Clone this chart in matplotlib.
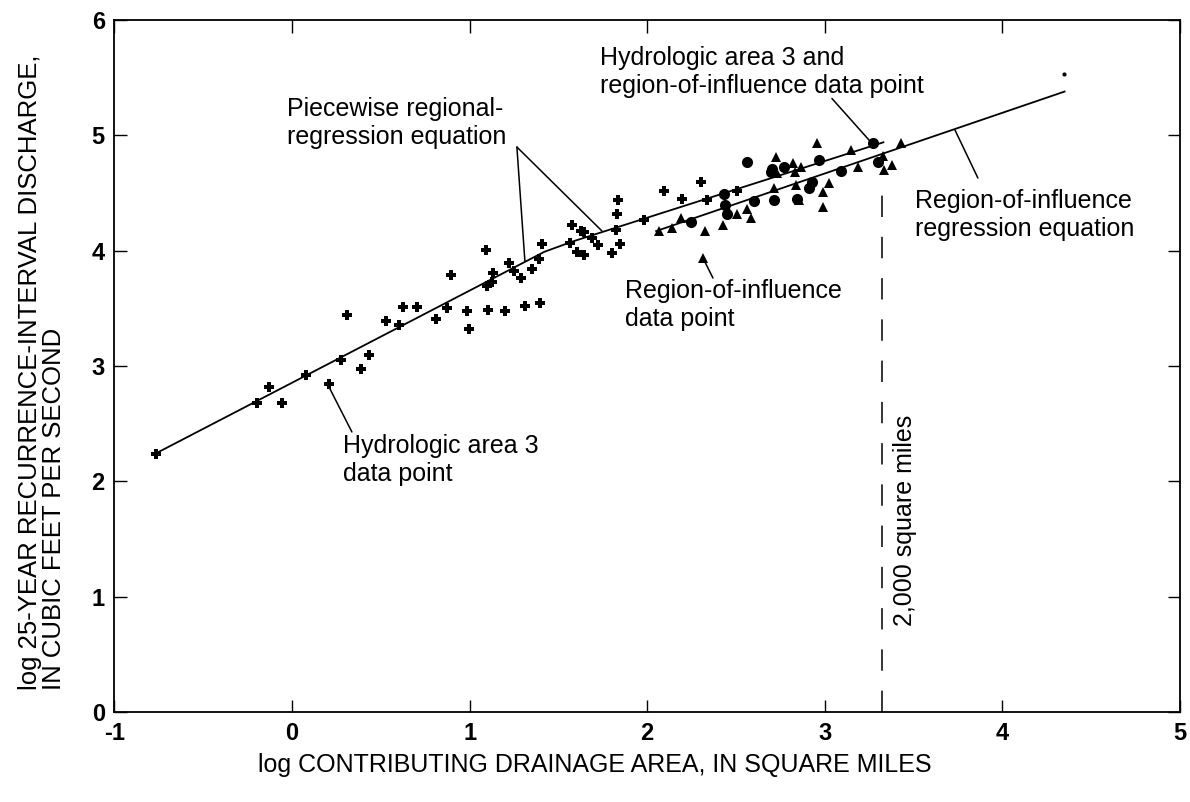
import matplotlib
matplotlib.use("Agg")
import matplotlib.pyplot as plt

plt.rcParams["font.family"] = ["Liberation Sans", "DejaVu Sans"]
plt.rcParams["axes.unicode_minus"] = False

# hydrologic area 3 data points (log area, log Q25)
hydro_x = [-0.769, -0.196, -0.131, -0.055, 0.076, 0.207, 0.273, 0.311, 0.386, 0.433,
           0.527, 0.602, 0.626, 0.705, 0.808, 0.874, 0.893, 0.987, 0.996, 1.090,
           1.103, 1.096, 1.133, 1.128, 1.197, 1.221, 1.250, 1.291, 1.312, 1.353,
           1.391, 1.396, 1.410, 1.565, 1.578, 1.603, 1.625, 1.644, 1.644, 1.691,
           1.723, 1.804, 1.823, 1.832, 1.836, 1.847, 1.982, 2.095, 2.195, 2.302,
           2.339, 2.504]
hydro_y = [2.24, 2.68, 2.82, 2.68, 2.92, 2.84, 3.05, 3.44, 2.97, 3.10,
           3.39, 3.36, 3.51, 3.51, 3.41, 3.50, 3.79, 3.48, 3.32, 4.01,
           3.49, 3.69, 3.81, 3.73, 3.48, 3.89, 3.82, 3.76, 3.52, 3.84,
           3.93, 3.55, 4.06, 4.07, 4.22, 3.99, 4.17, 4.16, 3.96, 4.11,
           4.05, 3.98, 4.18, 4.32, 4.44, 4.06, 4.27, 4.52, 4.45, 4.60,
           4.44, 4.52]

# region-of-influence data points
roi_x = [2.066, 2.142, 2.189, 2.326, 2.316, 2.429, 2.452, 2.508, 2.564, 2.583,
         2.714, 2.724, 2.730, 2.818, 2.833, 2.855, 2.837, 2.865, 2.955, 2.987,
         2.987, 3.021, 3.146, 3.184, 3.325, 3.334, 3.380, 3.428]
roi_y = [4.17, 4.20, 4.28, 4.17, 3.94, 4.22, 4.35, 4.32, 4.36, 4.28,
         4.54, 4.81, 4.67, 4.76, 4.68, 4.44, 4.57, 4.73, 4.93, 4.51,
         4.38, 4.59, 4.87, 4.73, 4.82, 4.70, 4.74, 4.93]

# points in both hydrologic area 3 and region of influence
both_x = [2.248, 2.430, 2.440, 2.450, 2.564, 2.600, 2.696, 2.700, 2.714, 2.770,
          2.846, 2.910, 2.930, 2.968, 3.090, 3.269, 3.297]
both_y = [4.25, 4.49, 4.40, 4.32, 4.77, 4.43, 4.68, 4.71, 4.44, 4.73,
          4.45, 4.54, 4.60, 4.79, 4.69, 4.93, 4.77]

other_x = [4.345]
other_y = [5.53]

# regression lines
piece_x = [-0.77, 1.42, 1.58, 3.33]
piece_y = [2.24, 3.99, 4.08, 4.94]
roi_line_x = [2.05, 4.35]
roi_line_y = [4.17, 5.38]

limit_x = 3.32  # 2,000 square miles
limit_top = 4.57

fig = plt.figure(figsize=(11.9, 8.02), dpi=100)
ax = fig.add_axes([0.0962, 0.1122, 0.8954, 0.8628])

ax.plot(piece_x, piece_y, color="black", lw=1.3)
ax.plot(roi_line_x, roi_line_y, color="black", lw=1.3)
ax.plot([limit_x, limit_x], [0, limit_top], color="black", lw=1.1, dashes=(14, 13))

ax.plot(hydro_x, hydro_y, ls="none", marker="P", ms=7, color="black", mew=0)
ax.plot(roi_x, roi_y, ls="none", marker="^", ms=6.5, color="black", mew=0)
ax.plot(both_x, both_y, ls="none", marker="o", ms=8, color="black", mew=0)
ax.plot(other_x, other_y, ls="none", marker="o", ms=3, color="black", mew=0)

ax.set_xlim(-1, 5)
ax.set_ylim(0, 6)
ax.set_xticks(range(-1, 6))
ax.set_yticks(range(0, 7))
ax.tick_params(direction="in", length=9, width=1, top=True, right=True,
               labelsize=17, pad=7)
for lab in ax.get_xticklabels() + ax.get_yticklabels():
    lab.set_fontweight("bold")
for sp in ax.spines.values():
    sp.set_linewidth(1.3)

fs = 18
lead = dict(arrowstyle="-", color="black", lw=1.1, shrinkA=0, shrinkB=0)

ax.text(1.734, 5.55, "Hydrologic area 3 and\nregion-of-influence data point",
        fontsize=fs, ha="left", va="center", linespacing=1.2)
ax.annotate("", xy=(3.26, 4.94), xytext=(3.04, 5.32), arrowprops=lead)

ax.text(-0.029, 5.107, "Piecewise regional-\nregression equation",
        fontsize=fs, ha="left", va="center", linespacing=1.2)
ax.annotate("", xy=(1.311, 3.911), xytext=(1.266, 4.899), arrowprops=lead)
ax.annotate("", xy=(1.745, 4.171), xytext=(1.266, 4.899), arrowprops=lead)

ax.text(1.874, 3.529, "Region-of-influence\ndata point",
        fontsize=fs, ha="left", va="center", linespacing=1.2)
ax.annotate("", xy=(2.325, 3.902), xytext=(2.370, 3.763), arrowprops=lead)

ax.text(0.287, 2.185, "Hydrologic area 3\ndata point",
        fontsize=fs, ha="left", va="center", linespacing=1.2)
ax.annotate("", xy=(0.208, 2.818), xytext=(0.337, 2.428), arrowprops=lead)

ax.text(3.507, 4.309, "Region-of-influence\nregression equation",
        fontsize=fs, ha="left", va="center", linespacing=1.2)
ax.annotate("", xy=(3.733, 5.046), xytext=(3.862, 4.630), arrowprops=lead)

ax.text(3.45, 1.66, "2,000 square miles", rotation=90, fontsize=fs,
        ha="center", va="center")

fig.text(0.5, 0.046, "log CONTRIBUTING DRAINAGE AREA, IN SQUARE MILES",
         fontsize=fs, ha="center", va="center")
fig.text(0.0357, 0.14,
         "log 25-YEAR RECURRENCE-INTERVAL DISCHARGE,\nIN CUBIC FEET PER SECOND",
         fontsize=18.5, ha="center", va="bottom", rotation=90,
         multialignment="left", linespacing=1.0)

fig.savefig("out.png", dpi=100)
plt.close(fig)
